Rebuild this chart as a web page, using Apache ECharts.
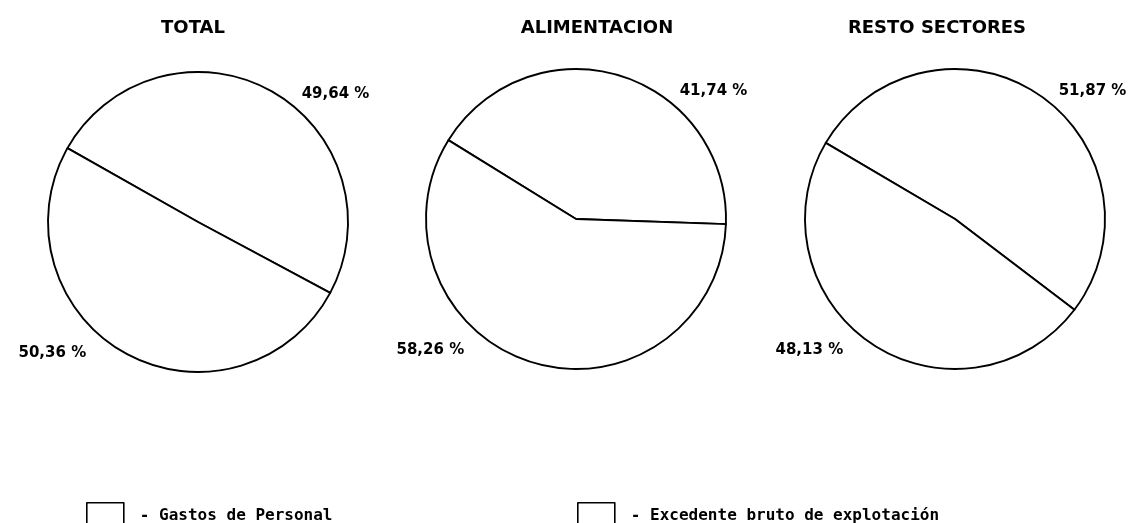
<!DOCTYPE html>
<html>
<head>
<meta charset="utf-8">
<script src="https://cdn.jsdelivr.net/npm/echarts@6/dist/echarts.min.js"></script>
<style>
  html, body { margin: 0; padding: 0; background: #fff; }
  #chart { width: 1136px; height: 523px; }
</style>
</head>
<body>
<div id="chart"></div>
<script>
// ---- data ----
const categories = ['Gastos de Personal', 'Excedente bruto de explotación'];
const panelTitles = ['TOTAL', 'ALIMENTACION', 'RESTO SECTORES'];
const gastosPersonal = [49.64, 41.74, 51.87];
const excedenteBruto = [50.36, 58.26, 48.13];

// ---- layout (style, not data) ----
const centers = [[198, 222], [576, 219], [955, 219]];
const titleX = [193, 597, 937];
const startAngles = [150.5, 148.3, 149.5];
const radius = 150;
const labelAngles = [43, 222];
const labelDist = [188, 196];

const fmt = v => v.toFixed(2).replace('.', ',') + ' %';

const chart = echarts.init(document.getElementById('chart'), null, { renderer: 'canvas' });

const series = panelTitles.map((t, i) => ({
  type: 'pie',
  name: t,
  center: centers[i],
  radius: radius,
  startAngle: startAngles[i],
  clockwise: true,
  silent: true,
  animation: false,
  avoidLabelOverlap: false,
  itemStyle: { color: '#fff', borderColor: '#000', borderWidth: 1.9 },
  emphasis: { disabled: true },
  label: {
    show: true,
    position: 'outside',
    formatter: p => fmt(p.value),
    color: '#000',
    fontFamily: 'DejaVu Sans',
    fontWeight: 'bold',
    fontSize: 15
  },
  labelLine: { show: false },
  labelLayout: params => {
    const c = centers[params.seriesIndex];
    const a = labelAngles[params.dataIndex] * Math.PI / 180;
    const d = labelDist[params.dataIndex];
    return {
      x: c[0] + d * Math.cos(a),
      y: c[1] - d * Math.sin(a),
      align: 'center',
      verticalAlign: 'middle'
    };
  },
  data: [
    { name: categories[0], value: gastosPersonal[i] },
    { name: categories[1], value: excedenteBruto[i] }
  ]
}));

const legendCommon = {
  top: 502,
  padding: 0,
  itemWidth: 37,
  itemHeight: 26,
  icon: 'rect',
  selectedMode: false,
  itemStyle: { color: '#fff', borderColor: '#000', borderWidth: 1.6 },
  textStyle: {
    fontFamily: 'DejaVu Sans Mono',
    fontWeight: 'bold',
    fontSize: 16,
    color: '#000',
    padding: [0, 0, 10, 11]
  },
  formatter: n => '- ' + n
};

chart.setOption({
  backgroundColor: '#fff',
  animation: false,
  title: panelTitles.map((t, i) => ({
    text: t,
    left: titleX[i],
    top: 19,
    padding: 0,
    textAlign: 'center',
    textStyle: {
      fontFamily: 'DejaVu Sans',
      fontWeight: 'bold',
      fontSize: 18,
      color: '#000'
    }
  })),
  legend: [
    Object.assign({}, legendCommon, { left: 86, data: [categories[0]] }),
    Object.assign({}, legendCommon, { left: 577, data: [categories[1]] })
  ],
  series: series
});
</script>
</body>
</html>
